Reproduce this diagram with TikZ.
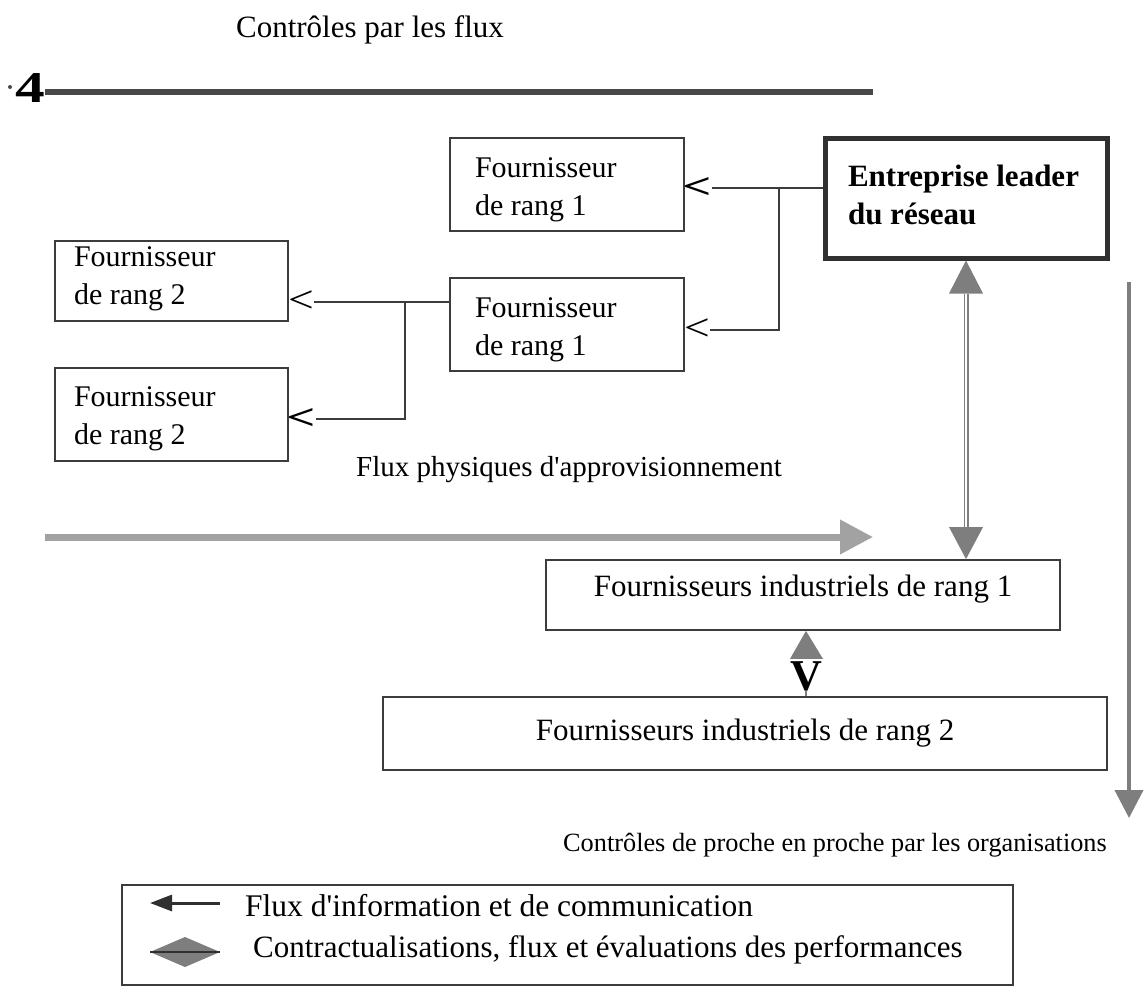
\documentclass[tikz,border=0pt]{standalone}
\usepackage{fontspec}
\setmainfont{Liberation Serif}
\newfontfamily\straightfont{Liberation Serif}
\newcommand\apos{{\straightfont '}}
\newcommand\shiftedtext[3]{\raisebox{#1}[\height][\depth]{\parbox{#2}{\raggedright #3}}}
\usetikzlibrary{arrows.meta,calc}
\definecolor{boxline}{HTML}{3C3C3C}
\definecolor{arrgray}{HTML}{7E7E7E}
\definecolor{flowgray}{HTML}{A2A2A2}
\definecolor{topgray}{HTML}{484848}
\definecolor{legdark}{HTML}{303030}
\begin{document}
\begin{tikzpicture}[x=1pt,y=-1pt,
  fbox/.style={draw=boxline, line width=1.8pt, inner sep=0pt,
    font=\fontsize{30}{38}\selectfont},
  bigbox/.style={draw=boxline, line width=1.8pt, align=center, inner sep=0pt,
    font=\fontsize{31}{38}\selectfont},
  leadbox/.style={draw=legdark, line width=5pt, inner sep=0pt,
    font=\fontsize{31}{38}\selectfont\bfseries},
  ltbold/.style={inner sep=0pt, font=\fontsize{36}{36}\selectfont\bfseries},
  ltthin/.style={inner sep=0pt, font=\fontsize{38}{38}\selectfont},
  conn/.style={draw=boxline, line width=1.6pt},
  plain/.style={inner sep=0pt},
]
\useasboundingbox (0,0) rectangle (1147,999);

% titles
\node[plain, font=\fontsize{31}{36}\selectfont] (title) at (370,30) {Contrôles par les flux};
\node[plain, font=\fontsize{44}{44}\selectfont\bfseries] (top4) at (30,88) {\scalebox{1.35}[1]{4}};
\coordinate (topend) at (873,92);
\fill[topgray] (10,87) circle (2);
\draw[topgray, line width=6pt] (top4.east |- topend) -- (topend);

% boxes
\node[fbox, minimum width=234pt, minimum height=93pt] (f1a) at (567,184.5) {\shiftedtext{-5pt}{184pt}{Fournisseur\\de rang 1}};
\node[fbox, minimum width=234pt, minimum height=93pt] (f1b) at (567,324.5) {\shiftedtext{-5pt}{184pt}{Fournisseur\\de rang 1}};
\node[fbox, minimum width=233pt, minimum height=80pt] (f2a) at (171.5,281) {\shiftedtext{2pt}{195pt}{Fournisseur\\de rang 2}};
\node[fbox, minimum width=233pt, minimum height=93pt] (f2b) at (171.5,414.5) {\shiftedtext{-4pt}{195pt}{Fournisseur\\de rang 2}};
\node[leadbox, minimum width=282pt, minimum height=120pt] (leader) at (966,198) {\shiftedtext{3.5pt}{236pt}{Entreprise leader\\du réseau}};
\node[bigbox, minimum width=514pt, minimum height=70pt, text depth=18pt] (fi1) at (803,595) {Fournisseurs industriels de rang 1};
\node[bigbox, minimum width=724pt, minimum height=73pt] (fi2) at (745,733.5) {Fournisseurs industriels de rang 2};

% information links
\node[ltbold] (lt1) at (697,188) {\scalebox{1.4}[1]{<}};
\node[ltthin] (lt2) at (697,330) {\scalebox{1.2}[1]{<}};
\node[ltthin] (lt3) at (301,302) {\scalebox{1.2}[1]{<}};
\node[ltbold] (lt4) at (301,419) {\scalebox{1.4}[1]{<}};
\draw[conn] (lt1.east) -- (lt1.east -| leader.west);
\coordinate (j1) at (779,188);
\draw[conn] (j1) |- (lt2.east);
\draw[conn] (f1b.west |- lt3) -- (lt3.east);
\coordinate (j2) at (405,302);
\draw[conn] (j2) |- (lt4.east);

% leader <-> fi1 double arrow
\fill[arrgray] (leader.south) -- ++(-17,33) -- ++(34,0) -- cycle;
\fill[arrgray] (leader.south |- fi1.north) -- ++(-17,-32) -- ++(34,0) -- cycle;
\draw[arrgray, line width=1.3pt, double=white, double distance=2.4pt]
  ($(leader.south)+(0,33)$) -- ($(leader.south |- fi1.north)+(0,-32)$);

% fi1 <-> fi2
\fill[arrgray] ($(fi1.south)+(3,0)$) -- ++(-16,28) -- ++(33,0) -- cycle;
\node[plain, font=\fontsize{44}{44}\selectfont\bfseries] (vtip) at (806,676) {V};
\draw[arrgray, line width=2pt] (vtip.south) -- (vtip.south |- fi2.north);

% physical flow arrow
\node[plain, font=\fontsize{29}{34}\selectfont] (phys) at (569,470) {Flux physiques d\apos approvisionnement};
\coordinate (fstart) at (45,537);
\coordinate (fend) at (873,537);
\draw[flowgray, line width=7pt, -{Triangle[width=33pt,length=33pt]}] (fstart) -- (fend);

% right vertical arrow
\coordinate (rstart) at (1129,282);
\coordinate (rend) at (1129,818);
\draw[arrgray, line width=4pt, -{Triangle[width=28pt,length=28pt]}] (rstart) -- (rend);
\node[plain, anchor=east, font=\fontsize{26.3}{30}\selectfont] (orgs) at (1107,845) {Contrôles de proche en proche par les organisations};

% legend
\node[draw=boxline, line width=1.8pt, minimum width=891pt, minimum height=100pt, inner sep=0pt] (legend) at (567.5,935) {};
\coordinate (la1) at (150,903);
\coordinate (la2) at (220,903);
\draw[legdark, line width=3pt, {Triangle[width=16pt,length=22pt]}-] (la1) -- (la2);
\node[plain, anchor=west, font=\fontsize{31.5}{34}\selectfont] (leg1) at (245,906) {Flux d\apos information et de communication};
\fill[arrgray] (150,952) -- (185,937) -- (220,952) -- (185,967) -- cycle;
\draw[legdark, line width=1.5pt] (150,952) -- (220,952);
\node[plain, anchor=west, font=\fontsize{31}{34}\selectfont] (leg2) at (253,950) {Contractualisations, flux et évaluations des performances};
\end{tikzpicture}
\end{document}
